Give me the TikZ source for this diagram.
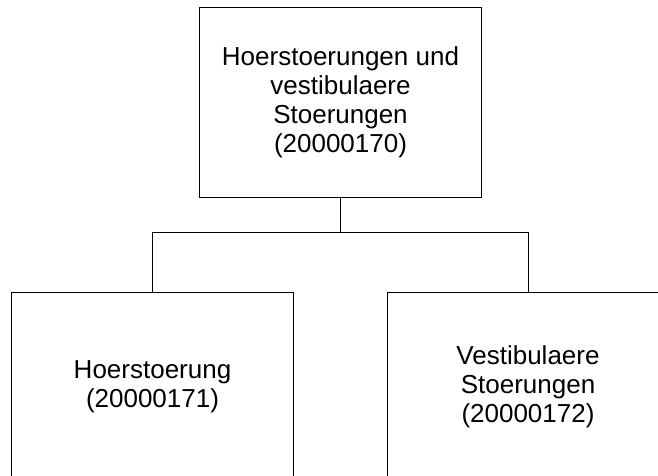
\documentclass[tikz,border=0pt]{standalone}
\usepackage{fontspec}
\setmainfont{Liberation Sans}
\usetikzlibrary{positioning}

\begin{document}
\begin{tikzpicture}
  [x=1pt,y=-1pt,line width=1pt,
   every node/.style={draw,rectangle,align=center,minimum width=282pt,
     minimum height=189pt,font=\fontsize{26}{29}\selectfont}]
  \useasboundingbox (0,0) rectangle (658,476);
  \clip (0,0) rectangle (658,476);
  \node (parent) at (340.5,102.5) {Hoerstoerungen und\\vestibulaere\\Stoerungen\\(20000170)};
  \node (hoer) at (152.5,386.5) {Hoerstoerung\\(20000171)};
  \node (vest) at (528,386.5) {Vestibulaere\\Stoerungen\\(20000172)};
  \coordinate (fork) at (340.5,232.5);

  \draw (parent) -- (fork);
  \draw (fork) -| (hoer);
  \draw (fork) -| (vest);
\end{tikzpicture}
\end{document}
